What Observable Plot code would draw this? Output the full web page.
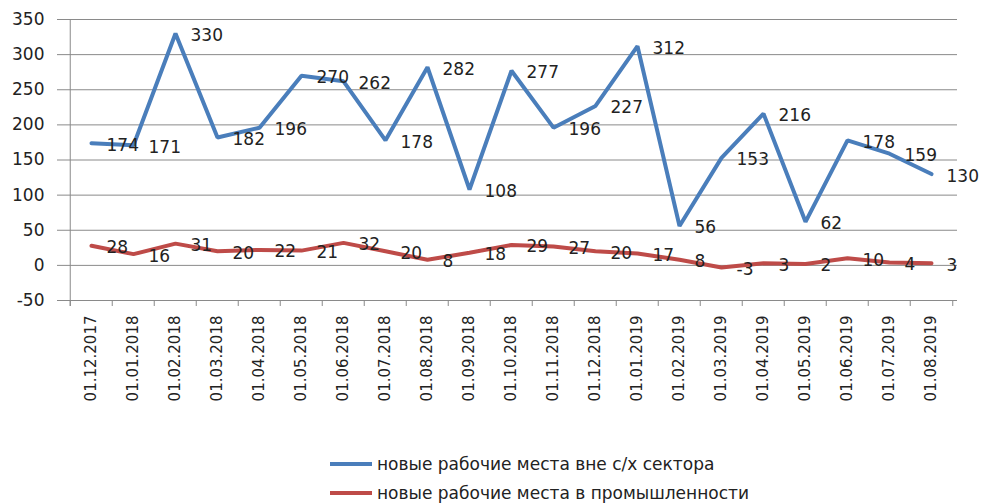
<!DOCTYPE html>
<html><head><meta charset="utf-8">
<script src="https://cdn.jsdelivr.net/npm/d3@7"></script>
<script src="https://cdn.jsdelivr.net/npm/@observablehq/plot@0.6"></script>
<style>
body{margin:0;background:#fff;font-family:"DejaVu Sans",sans-serif;}
#wrap{position:relative;width:989px;height:504px;overflow:hidden;}
#legend{position:absolute;left:330px;top:449px;font-size:17px;color:#222;}
.item{display:flex;align-items:center;height:29px;white-space:nowrap;}
.sw{width:42px;height:4px;margin-right:5px;}
</style></head><body>
<div id="wrap"><div id="chart"></div><div id="legend"></div></div>
<script>
const dates = ["01.12.2017","01.01.2018","01.02.2018","01.03.2018","01.04.2018","01.05.2018","01.06.2018","01.07.2018","01.08.2018","01.09.2018","01.10.2018","01.11.2018","01.12.2018","01.01.2019","01.02.2019","01.03.2019","01.04.2019","01.05.2019","01.06.2019","01.07.2019","01.08.2019"];
const nonFarm = [174,171,330,182,196,270,262,178,282,108,277,196,227,312,56,153,216,62,178,159,130];
const industry = [28,16,31,20,22,21,32,20,8,18,29,27,20,17,8,-3,3,2,10,4,3];
const seriesNames = ["новые рабочие места вне с/х сектора","новые рабочие места в промышленности"];
const colors = ["#4a7ebb","#be4b48"];
const yTicks = [-50,0,50,100,150,200,250,300,350];

const rows = [];
dates.forEach((d,i)=>rows.push({date:d, value:nonFarm[i], series:seriesNames[0]}));
dates.forEach((d,i)=>rows.push({date:d, value:industry[i], series:seriesNames[1]}));

const half = (989-64-32)/dates.length/2;
const axisColor = "#8a8a8a";

const chart = Plot.plot({
  width: 989, height: 420,
  marginLeft: 64, marginRight: 32, marginTop: 19, marginBottom: 120,
  style: {fontFamily: "DejaVu Sans", fontSize: "15px", color: "#222", background: "#fff"},
  x: {type: "point", domain: dates, padding: 0.5, label: null},
  y: {domain: [-50, 350], label: null},
  color: {domain: seriesNames, range: colors},
  marks: [
    Plot.ruleY(yTicks, {stroke: axisColor, strokeWidth: 1}),
    Plot.ruleX([dates[0]], {x: d => d, dx: -half, stroke: axisColor, insetBottom: -6}),
    Plot.ruleX(dates, {x: d => d, dx: -half, stroke: axisColor, insetTop: 281, insetBottom: -6}),
    Plot.ruleX([dates[dates.length-1]], {x: d => d, dx: half, stroke: axisColor, insetTop: 281, insetBottom: -6}),
    Plot.axisY({ticks: yTicks, tickSize: 7, tickPadding: 13, stroke: axisColor, fill: "#222", fontSize: 17, tickFormat: d => String(d)}),
    Plot.axisX({tickRotate: -90, tickSize: 0, tickPadding: 15, fontSize: 15, fill: "#222"}),
    Plot.lineY(rows, {x: "date", y: "value", z: "series", stroke: "series", strokeWidth: 4, strokeLinejoin: "miter"}),
    Plot.text(rows, {x: "date", y: "value", text: d => String(d.value), dx: 15, dy: 2, textAnchor: "start", fontSize: 17, fill: "#222"})
  ]
});
document.getElementById("chart").appendChild(chart);

const legend = document.getElementById("legend");
seriesNames.forEach((name, i) => {
  const item = document.createElement("div");
  item.className = "item";
  const sw = document.createElement("span");
  sw.className = "sw";
  sw.style.background = colors[i];
  const t = document.createElement("span");
  t.textContent = name;
  item.appendChild(sw); item.appendChild(t);
  legend.appendChild(item);
});
</script>
</body></html>
